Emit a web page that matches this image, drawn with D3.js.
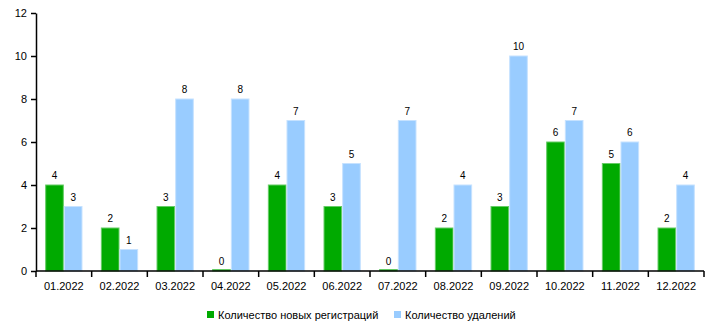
<!DOCTYPE html>
<html><head><meta charset="utf-8">
<script src="https://cdn.jsdelivr.net/npm/d3@7"></script>
<style>body{margin:0;background:#fff}svg{display:block}text{font-family:"Liberation Sans",Arial,sans-serif}</style>
</head><body>
<svg id="c" width="718" height="325"></svg>
<script>
const categories = ["01.2022","02.2022","03.2022","04.2022","05.2022","06.2022","07.2022","08.2022","09.2022","10.2022","11.2022","12.2022"];
const newRegs = [4,2,3,0,4,3,0,2,3,6,5,2];
const deletions = [3,1,8,8,7,5,7,4,10,7,6,4];
const seriesNames = ["Количество новых регистраций","Количество удалений"];
const yTicks = [0,2,4,6,8,10,12];
const colors = ["#00aa00","#99ccff"];
const strokes = ["#66cc66","#c6e2ff"];

const svg = d3.select("#c");
const m = {l:36, r:14, t:13, b:54};
const W = 718, H = 325;
const x = d3.scaleBand().domain(categories).range([m.l, W-m.r]).paddingInner(0.33).paddingOuter(0.165);
const xb = d3.scaleBand().domain(categories).range([m.l, W-m.r]);
const xs = d3.scaleBand().domain([0,1]).range([0, x.bandwidth()]);
const y = d3.scaleLinear().domain([0,12]).range([H-m.b, m.t]);

const data = [newRegs, deletions];
data.forEach((arr, si) => {
  const g = svg.append("g");
  g.selectAll("rect").data(arr).join("rect")
    .attr("x", (d,i) => x(categories[i]) + xs(si) + 0.5)
    .attr("width", xs.bandwidth() - 1)
    .attr("y", d => Math.min(y(d), y(0) - 1.5) )
    .attr("height", d => Math.max(1.5, y(0) - y(d)))
    .attr("fill", colors[si])
    .attr("stroke", strokes[si])
    .attr("stroke-width", 1);
  g.selectAll("text").data(arr).join("text")
    .attr("x", (d,i) => x(categories[i]) + xs(si) + xs.bandwidth()/2)
    .attr("y", d => y(d) - 6)
    .attr("text-anchor", "middle")
    .attr("font-size", 10)
    .attr("fill", "#000")
    .text(d => d);
});

// y axis
const ya = svg.append("g").attr("transform", `translate(${m.l},0)`)
  .call(d3.axisLeft(y).tickValues(yTicks).tickSize(5).tickPadding(4).tickSizeOuter(0));
ya.select(".domain").attr("stroke","#000").attr("stroke-width",1.5);
ya.selectAll("line").attr("stroke","#000").attr("stroke-width",1.5);
ya.selectAll("text").attr("font-size",11).attr("fill","#000").attr("font-family","'Liberation Sans',Arial,sans-serif");

// x axis
const xa = svg.append("g").attr("transform", `translate(0,${y(0)})`);
xa.append("line").attr("x1", m.l).attr("x2", W-m.r).attr("y1",0).attr("y2",0).attr("stroke","#000").attr("stroke-width",1.5);
const edges = categories.map(c => xb(c)).concat([xb(categories[categories.length-1]) + xb.bandwidth()]);
xa.selectAll("line.tk").data(edges).join("line").attr("class","tk")
  .attr("x1", d=>d).attr("x2", d=>d).attr("y1",0).attr("y2",6).attr("stroke","#000").attr("stroke-width",1.5);
xa.selectAll("text").data(categories).join("text")
  .attr("x", c => xb(c) + xb.bandwidth()/2)
  .attr("y", 19)
  .attr("text-anchor","middle")
  .attr("font-size",11)
  .attr("fill","#000")
  .text(c => c);

// legend
const lg = svg.append("g");
const lx = [207, 394];
seriesNames.forEach((n, i) => {
  lg.append("rect").attr("x", lx[i]).attr("y", 311).attr("width", 7).attr("height", 7).attr("fill", colors[i]);
  lg.append("text").attr("x", lx[i] + 11).attr("y", 318.5).attr("font-size", 11).attr("fill","#000").text(n);
});
</script>
</body></html>
